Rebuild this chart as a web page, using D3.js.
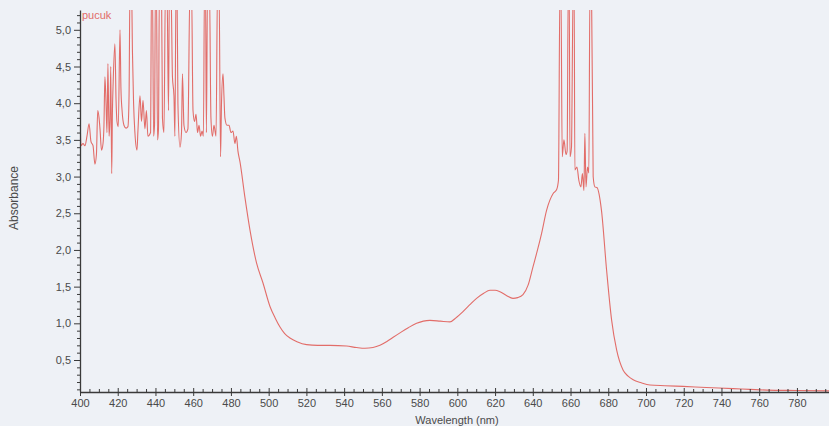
<!DOCTYPE html>
<html><head><meta charset="utf-8">
<script src="https://cdn.jsdelivr.net/npm/d3@7"></script>
<style>
html,body{margin:0;padding:0;background:#eef1f6;}
svg{display:block;}
text{font-family:"Liberation Sans",Arial,sans-serif;}
</style></head><body>
<svg id="chart" width="829" height="426"></svg>
<script>
// ---- data ----
const wavelength = [
400.0,400.5,401.6,402.6,403.7,404.8,405.8,406.9,407.9,408.7,409.4,410.1,410.6,411.4,412.2,412.7,413.2,413.8,414.3,414.8,
415.4,415.9,416.3,416.8,417.2,417.6,418.5,419.1,419.6,420.3,421.2,421.7,422.3,423.3,424.4,425.4,426.0,426.5,427.3,427.8,
428.4,429.1,430.2,430.7,431.8,432.6,433.4,434.4,435.2,436.0,437.4,437.9,438.4,439.0,439.5,440.0,440.5,441.1,441.6,442.1,
443.2,443.7,444.5,445.3,446.1,446.9,447.4,448.2,449.0,449.8,450.3,450.9,451.4,451.9,453.0,453.8,454.3,455.1,456.2,457.2,
458.3,459.1,459.9,460.7,461.5,462.3,463.1,463.9,464.7,465.4,466.0,466.5,467.0,467.6,468.6,469.4,470.2,471.0,472.1,472.9,
473.7,474.5,475.0,475.8,476.3,476.8,477.9,479.0,480.0,481.1,482.1,482.9,483.7,484.8,
487.4,490.1,493.6,497.0,500.7,503.5,506.0,508.5,511.3,515.0,520.1,526.0,532.5,541.3,546.6,551.0,555.3,559.0,562.5,566.0,
569.6,574.0,578.4,582.0,585.5,591.0,596.1,599.5,603.0,606.5,610.2,614.0,617.3,620.0,622.6,626.0,629.5,632.0,634.8,637.5,
640.1,642.5,644.7,647.3,650.8,652.6,653.6,654.4,654.9,655.6,656.5,657.6,658.2,658.8,659.3,659.7,660.5,661.4,661.9,662.3,
663.4,664.4,665.5,666.3,667.1,667.6,668.2,669.0,669.7,670.3,671.1,672.0,672.9,674.0,676.4,679.1,681.8,684.4,687.9,690.5,
693.2,697.5,702.1,710.0,719.6,732.0,746.1,755.0,764.1,780.0,797.0
];
const absorbance = [
4.00,3.42,3.45,3.42,3.55,3.72,3.48,3.42,3.17,3.30,3.90,3.80,3.65,3.36,3.45,3.70,4.36,4.00,3.60,4.54,
3.55,3.80,4.50,3.04,3.90,4.30,4.81,4.05,3.75,3.68,5.00,4.20,3.90,3.70,3.66,3.68,4.10,5.60,5.60,4.70,
4.00,3.60,3.36,3.62,4.10,3.75,4.04,3.65,3.90,3.55,3.60,5.60,5.60,3.55,3.70,5.60,5.60,3.50,3.65,5.60,
5.60,3.80,3.60,5.60,5.60,3.90,5.60,5.60,4.36,4.10,3.55,5.60,5.60,4.00,3.40,3.60,4.40,3.70,3.60,3.65,
5.60,5.60,3.90,3.75,3.85,3.60,3.70,3.55,3.62,3.55,5.60,5.60,3.60,5.60,5.60,3.80,3.55,3.70,3.55,5.60,
5.60,3.27,4.00,4.40,4.10,3.80,3.70,3.70,3.60,3.62,3.45,3.55,3.35,3.20,
2.72,2.27,1.82,1.55,1.23,1.07,0.95,0.86,0.80,0.75,0.71,0.70,0.70,0.69,0.67,0.66,0.67,0.70,0.75,0.81,
0.87,0.94,1.00,1.03,1.04,1.03,1.02,1.08,1.16,1.25,1.34,1.41,1.45,1.45,1.43,1.38,1.34,1.35,1.39,1.52,
1.77,2.00,2.23,2.54,2.77,2.82,2.95,5.60,5.60,3.27,3.50,3.30,3.35,5.60,5.60,3.27,3.40,5.60,5.60,3.09,
3.13,2.95,2.86,3.04,2.81,3.59,2.86,3.13,3.05,5.60,5.60,3.00,2.86,2.85,2.54,1.73,1.04,0.64,0.36,0.28,
0.23,0.19,0.16,0.15,0.14,0.125,0.11,0.10,0.09,0.085,0.08
];
const xTickValues = [400,420,440,460,480,500,520,540,560,580,600,620,640,660,680,700,720,740,760,780];
const yTickValues = [0.5,1.0,1.5,2.0,2.5,3.0,3.5,4.0,4.5,5.0];
const seriesName = "pucuk";
const xTitle = "Wavelength (nm)";
const yTitle = "Absorbance";

// ---- layout ----
const svg = d3.select("#chart");
const W = 829, H = 426;
const mLeft = 80, mRight = 829, mTop = 10, mBottom = 392;
svg.append("rect").attr("width", W).attr("height", H).attr("fill", "#eef1f6");

const x = d3.scaleLinear().domain([400, 797]).range([mLeft, mRight]);
const y = d3.scaleLinear().domain([0.064, 5.27]).range([mBottom, mTop]);

const lineColor = "#e26d69";
const axisColor = "#3a3a3a";
const textColor = "#4a4a4a";

svg.append("clipPath").attr("id", "plotclip")
  .append("rect").attr("x", mLeft).attr("y", mTop).attr("width", mRight - mLeft).attr("height", mBottom - mTop);

const data = wavelength.map((w, i) => ({w, a: absorbance[i]}));
const lineGen = d3.line().x(d => x(d.w)).y(d => y(d.a)).curve(d3.curveMonotoneX);
svg.append("path").datum(data)
  .attr("clip-path", "url(#plotclip)")
  .attr("d", lineGen)
  .attr("fill", "none")
  .attr("stroke", lineColor)
  .attr("stroke-width", 1.1)
  .attr("stroke-linejoin", "round");

// x axis minor ticks (every 5 nm, pointing up)
const xMinor = d3.range(405, 797, 5).filter(v => v % 20 !== 0);
const gxMinor = svg.append("g").attr("transform", `translate(0,${mBottom})`)
  .call(d3.axisBottom(x).tickValues(xMinor).tickSize(-3).tickFormat(""));
gxMinor.select(".domain").remove();
gxMinor.selectAll("line").attr("stroke", axisColor);

// x axis major
const gx = svg.append("g").attr("transform", `translate(0,${mBottom})`)
  .call(d3.axisBottom(x).tickValues(xTickValues).tickSize(4).tickSizeOuter(0).tickFormat(d3.format("d")));
gx.select(".domain").attr("stroke", axisColor).attr("stroke-width", 1.3);
gx.selectAll(".tick line").attr("stroke", axisColor).attr("y1", -4).attr("y2", 4);
gx.selectAll(".tick text").attr("fill", textColor).attr("font-size", 11)
  .attr("font-family", "'Liberation Sans', Arial, sans-serif");

// y axis minor ticks
const yMinor = d3.range(1, 53).map(v => v / 10).filter(v => Math.abs(v * 2 - Math.round(v * 2)) > 1e-6);
const gyMinor = svg.append("g").attr("transform", `translate(${mLeft},0)`)
  .call(d3.axisLeft(y).tickValues(yMinor).tickSize(3).tickFormat(""));
gyMinor.select(".domain").remove();
gyMinor.selectAll("line").attr("stroke", axisColor);

// y axis major
const gy = svg.append("g").attr("transform", `translate(${mLeft},0)`)
  .call(d3.axisLeft(y).tickValues(yTickValues).tickSize(6).tickSizeOuter(0)
    .tickFormat(d => d.toFixed(1).replace(".", ",")));
gy.select(".domain").attr("stroke", axisColor).attr("stroke-width", 1.3);
gy.selectAll(".tick line").attr("stroke", axisColor);
gy.selectAll(".tick text").attr("fill", textColor).attr("font-size", 11)
  .attr("font-family", "'Liberation Sans', Arial, sans-serif");

// titles
svg.append("text").attr("x", 457).attr("y", 424).attr("text-anchor", "middle")
  .attr("font-size", 11).attr("fill", textColor).text(xTitle);
svg.append("text").attr("transform", "translate(18,198) rotate(-90)").attr("text-anchor", "middle")
  .attr("font-size", 12).attr("fill", textColor).text(yTitle);

// series label
svg.append("text").attr("x", 82).attr("y", 19).attr("font-size", 11)
  .attr("fill", lineColor).text(seriesName);
</script>
</body></html>
